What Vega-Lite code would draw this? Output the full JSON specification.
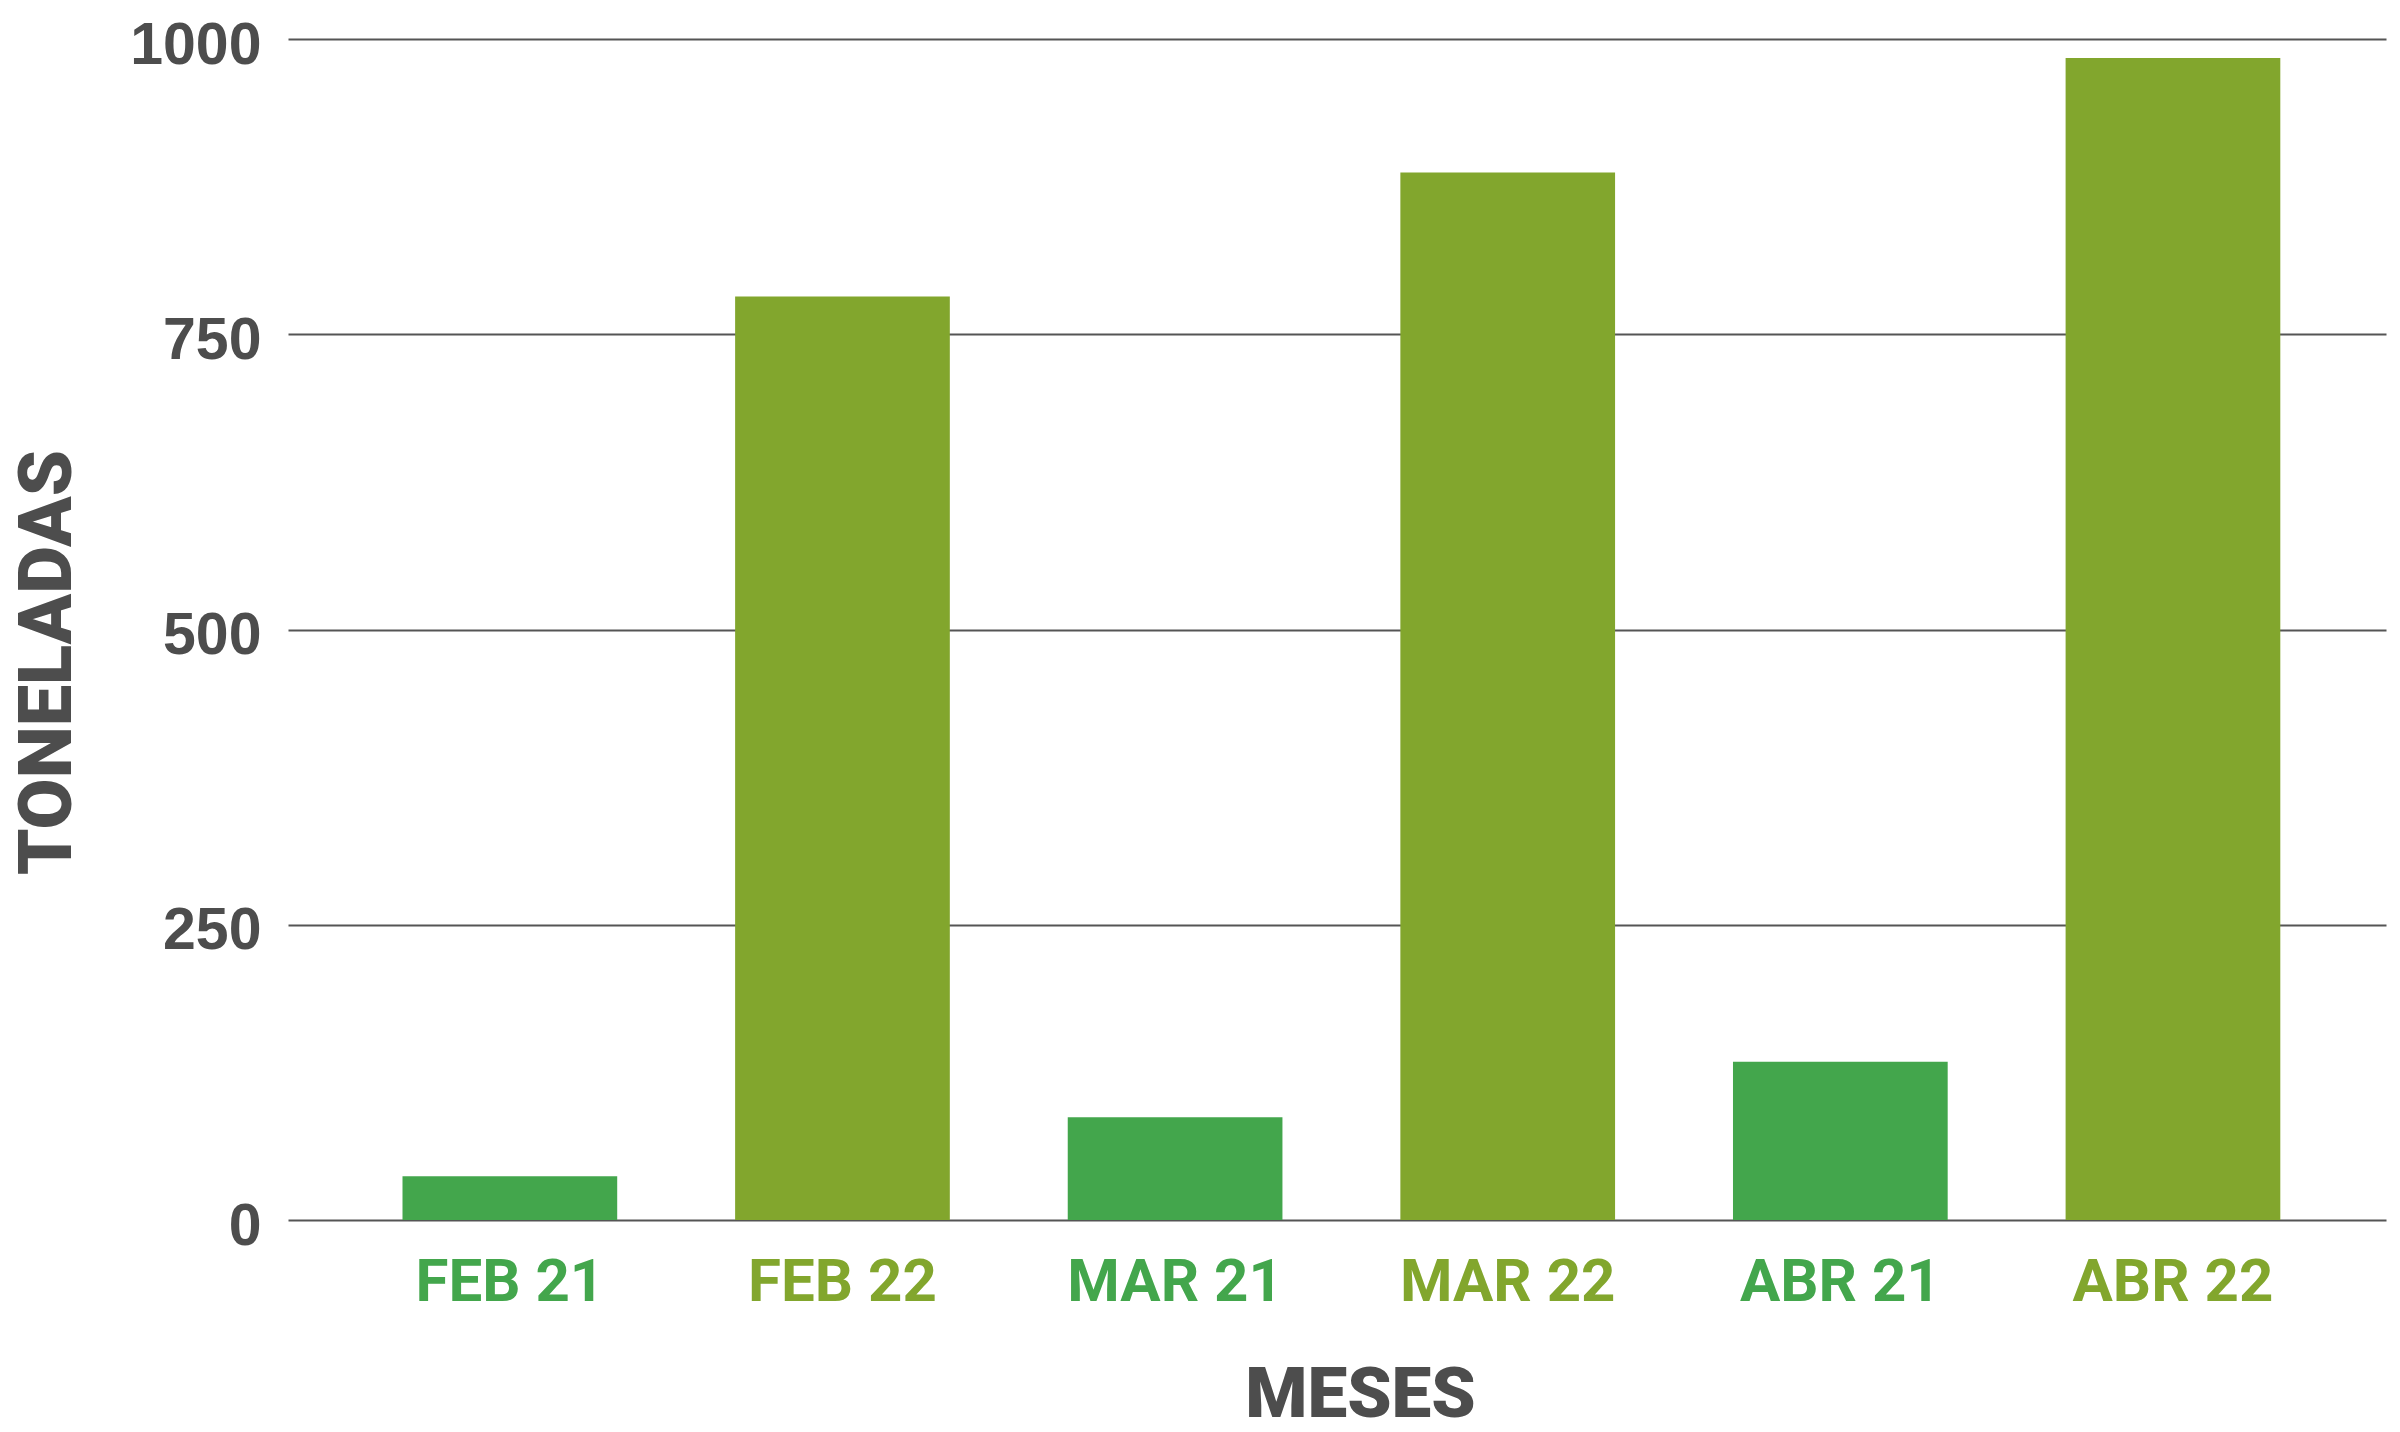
{
  "$schema": "https://vega.github.io/schema/vega-lite/v6.json",
  "width": 2098,
  "height": 1181,
  "autosize": {"type": "none"},
  "padding": {"left": 288, "top": 39, "right": 14, "bottom": 212},
  "background": "white",
  "config": {"view": {"stroke": null}},
  "data": {
    "values": [
      {"mes": "FEB 21", "anio": "21", "toneladas": 37},
      {"mes": "FEB 22", "anio": "22", "toneladas": 782},
      {"mes": "MAR 21", "anio": "21", "toneladas": 87},
      {"mes": "MAR 22", "anio": "22", "toneladas": 887},
      {"mes": "ABR 21", "anio": "21", "toneladas": 134},
      {"mes": "ABR 22", "anio": "22", "toneladas": 984}
    ]
  },
  "mark": {"type": "bar"},
  "encoding": {
    "x": {
      "field": "mes",
      "type": "nominal",
      "sort": null,
      "scale": {"paddingInner": 0.3545, "paddingOuter": 0.331, "align": 0.52},
      "axis": {
        "domain": false,
        "ticks": false,
        "tickSize": 0,
        "grid": false,
        "labelAngle": 0,
        "labelLimit": 0,
        "labelFont": "Roboto",
        "labelFontWeight": "bold",
        "labelFontSize": 60,
        "labelColor": {"expr": "indexof(datum.value, '21') >= 0 ? '#43A64C' : '#82A62D'"},
        "labelBaseline": "alphabetic",
        "labelPadding": 80,
        "title": "MESES",
        "titleFont": "Roboto",
        "titleFontWeight": 900,
        "titleFontSize": 71,
        "titleColor": "#4D4D4D",
        "titleX": 1072,
        "titleY": 196,
        "titleAlign": "center",
        "titleBaseline": "alphabetic"
      }
    },
    "y": {
      "field": "toneladas",
      "type": "quantitative",
      "scale": {"domain": [0, 1000], "nice": false},
      "axis": {
        "domain": false,
        "ticks": false,
        "tickSize": 0,
        "grid": true,
        "gridColor": "#555555",
        "gridWidth": 2,
        "values": [0, 250, 500, 750, 1000],
        "format": "d",
        "labelFont": "Liberation Sans",
        "labelFontWeight": "bold",
        "labelFontSize": 59,
        "labelColor": "#4D4D4D",
        "labelPadding": 27,
        "labelBaseline": "alphabetic",
        "labelOffset": 24,
        "title": "TONELADAS",
        "titleFont": "Roboto",
        "titleFontWeight": 900,
        "titleFontSize": 74,
        "titleColor": "#4D4D4D",
        "titleAngle": -90,
        "titleX": -218,
        "titleY": 623,
        "titleAlign": "center",
        "titleBaseline": "alphabetic"
      }
    },
    "color": {
      "field": "anio",
      "type": "nominal",
      "scale": {"domain": ["21", "22"], "range": ["#43A64C", "#82A62D"]},
      "legend": null
    }
  }
}
